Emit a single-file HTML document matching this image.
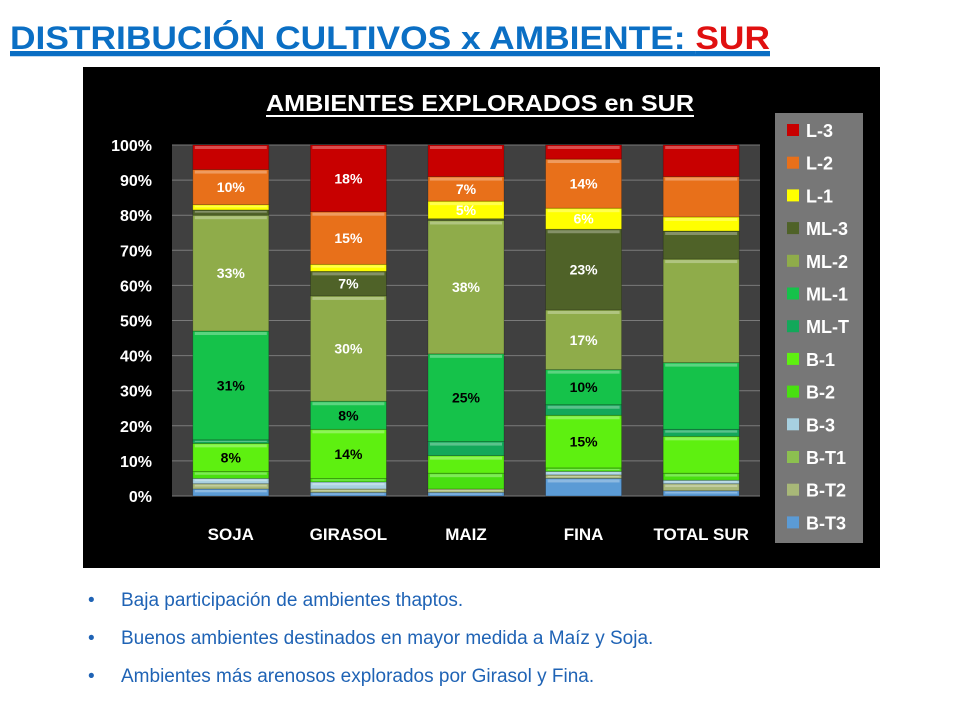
<!DOCTYPE html>
<html><head><meta charset="utf-8"><style>
body{margin:0;background:#fff;width:960px;height:720px;overflow:hidden;font-family:"Liberation Sans",sans-serif}
svg text{font-family:"Liberation Sans",sans-serif}
</style></head><body>
<svg id="s" width="960" height="720" xmlns="http://www.w3.org/2000/svg">
<text x="10" y="49" font-size="32" font-weight="bold" fill="#0b6fc4" textLength="760" lengthAdjust="spacingAndGlyphs" text-decoration="underline">DISTRIBUCIÓN CULTIVOS x AMBIENTE: <tspan fill="#e01010">SUR</tspan></text>
<line x1="10" y1="55" x2="770" y2="55" stroke="#0b6fc4" stroke-width="2.5"/>
<rect x="83" y="67" width="797" height="501" fill="#000"/>
<text x="480" y="111" font-size="23" font-weight="bold" fill="#fff" text-anchor="middle" textLength="428" lengthAdjust="spacingAndGlyphs">AMBIENTES EXPLORADOS en SUR</text>
<line x1="266" y1="116" x2="694" y2="116" stroke="#fff" stroke-width="2"/>
<rect x="172" y="145" width="588" height="351" fill="#404040"/>
<g id="grid"></g><g id="bars"></g><g id="axis"></g>
<rect x="775" y="113" width="88" height="430" fill="#777"/>
<g id="legend"></g>
<g font-size="19" fill="#1f63b5">
<text x="88" y="606">•<tspan x="121">Baja participación de ambientes thaptos.</tspan></text>
<text x="88" y="644">•<tspan x="121">Buenos ambientes destinados en mayor medida a Maíz y Soja.</tspan></text>
<text x="88" y="682">•<tspan x="121">Ambientes más arenosos explorados por Girasol y Fina.</tspan></text>
</g>
</svg>
<script>
const categories=["SOJA","GIRASOL","MAIZ","FINA","TOTAL SUR"];
const seriesNames=["B-T3","B-T2","B-T1","B-3","B-2","B-1","ML-T","ML-1","ML-2","ML-3","L-1","L-2","L-3"];
const seriesColors=["#5b9bd5","#a8b878","#8cc050","#a7d0e0","#48e010","#5ef010","#13a85a","#15c24a","#8fac4a","#4f6228","#ffff00","#e8701a","#c80000"];
const valSOJA=[2,1.5,0,1.5,2,8,1,31,33,1.5,1.5,10,7];
const valGIRASOL=[1,1,0,2,1,14,0,8,30,7,2,15,19];
const valMAIZ=[1,1,0,0,4.5,5,4,25,38,0.5,5,7,9];
const valFINA=[5,1,0,1,1,15,3,10,17,23,6,14,4];
const valTOTAL=[1.5,2,0,1,2,10.5,2,19,29.5,8,4,11.5,9];
const values=[valSOJA,valGIRASOL,valMAIZ,valFINA,valTOTAL];
const labSOJA=["","","","","","8%","","31%","33%","","","10%",""];
const labGIRASOL=["","","","","","14%","","8%","30%","7%","","15%","18%"];
const labMAIZ=["","","","","","","","25%","38%","","5%","7%",""];
const labFINA=["","","","","","15%","","10%","17%","23%","6%","14%",""];
const labTOTAL=["","","","","","","","","","","","",""];
const labels=[labSOJA,labGIRASOL,labMAIZ,labFINA,labTOTAL];
const yTicks=[0,10,20,30,40,50,60,70,80,90,100];
const NS="http://www.w3.org/2000/svg";
const y0=496,y1=145,x0=172,x1=760;
const y=v=>y0-(v/100)*(y0-y1);
const band=(x1-x0)/categories.length;
const xc=i=>x0+band*(i+0.5);
const bw=76;
function mk(t,a,p){const e=document.createElementNS(NS,t);for(const k in a)e.setAttribute(k,a[k]);p.appendChild(e);return e;}
const grid=document.getElementById('grid'),axis=document.getElementById('axis'),bars=document.getElementById('bars'),leg=document.getElementById('legend');
yTicks.forEach(t=>{
 const l=mk('line',{x1:x0,x2:x1,y1:y(t),y2:y(t),stroke:'#7a7a7a','stroke-width':1},grid);
 
 
 const tx=mk('text',{x:152,y:y(t)+6,'font-size':16,'font-weight':'bold',fill:'#fff','text-anchor':'end'},axis);
 tx.textContent=t+'%';
 
 
});
categories.forEach((c,i)=>{
 const tx=mk('text',{x:xc(i),y:540,'font-size':17,'font-weight':'bold',fill:'#fff','text-anchor':'middle'},axis);
 tx.textContent=c;
 
 
 let cum=0;
 values[i].forEach((v,j)=>{
  if(v>0){
   const top=y(cum+v),bot=y(cum);
   const r=mk('rect',{x:xc(i)-bw/2,y:top,width:bw,height:bot-top,fill:seriesColors[j],stroke:'rgba(0,0,0,0.25)','stroke-width':0.8},bars);
   
   
   if(bot-top>3){const h=mk('rect',{x:xc(i)-bw/2+2,y:top+1,width:bw-4,height:Math.min(3,(bot-top)/3),fill:'rgba(255,255,255,0.3)'},bars);
    
    }
   const lb=labels[i][j];
   if(lb){const dark=[5,6,7].includes(j);
    const t=mk('text',{x:xc(i),y:(top+bot)/2+5,'font-size':14,'font-weight':'bold',fill:dark?'#000':'#fff','text-anchor':'middle'},bars);
    t.textContent=lb;
    
    }
  }
  cum+=v;
 });
});
for(let k=0;k<seriesNames.length;k++){
 const j=seriesNames.length-1-k,yy=130+k*32.7;
 const sq=mk('rect',{x:787,y:yy-6,width:12,height:12,fill:seriesColors[j]},leg);
 
 
 const t=mk('text',{x:806,y:yy+7,'font-size':18,'font-weight':'bold',fill:'#fff'},leg);
 t.textContent=seriesNames[j];
 
 
}
</script>
</body></html>
